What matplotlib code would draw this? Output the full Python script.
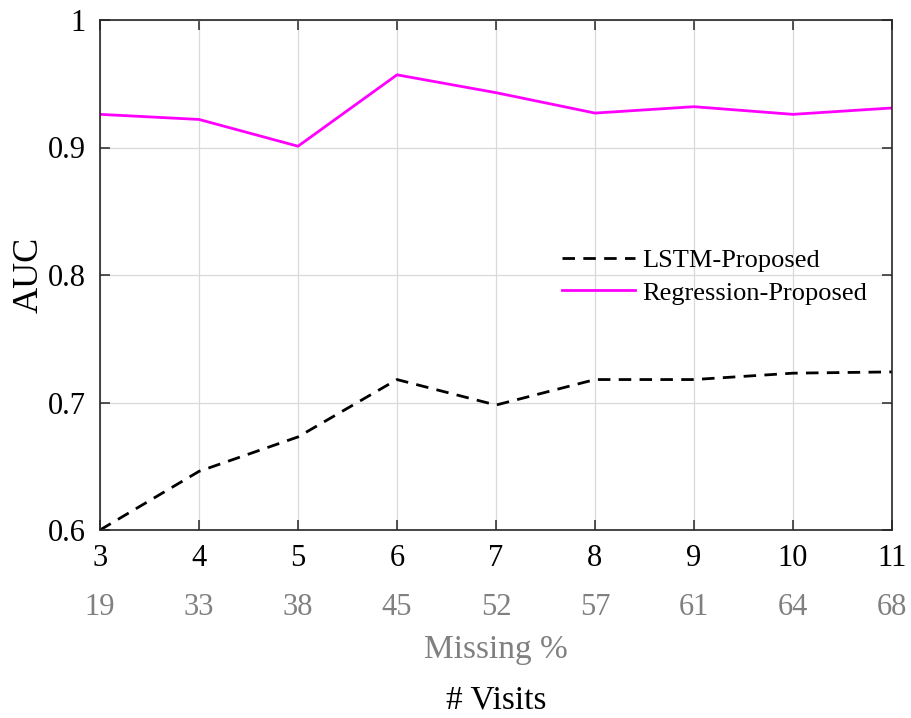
import matplotlib
matplotlib.use('Agg')
import matplotlib.pyplot as plt
import matplotlib.transforms as mtransforms

plt.rcParams['font.family'] = ['Liberation Serif', 'DejaVu Serif']
plt.rcParams['mathtext.fontset'] = 'stix'

visits = [3, 4, 5, 6, 7, 8, 9, 10, 11]
missing = [19, 33, 38, 45, 52, 57, 61, 64, 68]
lstm = [0.600, 0.646, 0.673, 0.718, 0.698, 0.718, 0.718, 0.723, 0.724]
regression = [0.926, 0.922, 0.901, 0.957, 0.943, 0.927, 0.932, 0.926, 0.931]

fig = plt.figure(figsize=(9.12, 7.18), dpi=100)
ax = fig.add_axes([100/912, 1-530/718, 792/912, 510/718])

ax.plot(visits, lstm, color='black', lw=2, linestyle=(0, (4.5, 3)), label='LSTM-Proposed')
ax.plot(visits, regression, color='#FF00FF', lw=2, label='Regression-Proposed')

ax.set_xlim(3, 11)
ax.set_ylim(0.6, 1.0)
ax.set_xticks(visits)
ax.set_yticks([0.6, 0.7, 0.8, 0.9, 1.0])
ax.set_yticklabels(['0.6', '0.7', '0.8', '0.9', '1'])
ax.grid(True, color='#d9d9d9', lw=0.9)
ax.set_axisbelow(True)
for s in ax.spines.values():
    s.set_color('#262626')
    s.set_linewidth(1.2)
ax.tick_params(direction='in', length=7, width=1.1, color='#262626',
               top=True, right=True, labelsize=22, pad=10, labelcolor='black')

# secondary row of tick labels
trans = mtransforms.blended_transform_factory(ax.transData, ax.transAxes)
for v, m in zip(visits, missing):
    ax.text(v, -0.151, str(m), transform=trans, ha='center', va='center',
            fontsize=22, color='#808080')
ax.text(0.5, -0.235, 'Missing %', transform=ax.transAxes, ha='center', va='center',
        fontsize=24, color='#808080')
ax.text(0.5, -0.333, '# Visits', transform=ax.transAxes, ha='center', va='center',
        fontsize=24, color='black')

ax.set_ylabel('AUC', fontsize=26, labelpad=2)

ax.legend(loc='center left', bbox_to_anchor=(0.583, 0.497), frameon=False,
          fontsize=19, handlelength=2.76, handletextpad=0.3, labelspacing=0.35,
          borderaxespad=0, borderpad=0)

fig.savefig('out.png', dpi=100)
